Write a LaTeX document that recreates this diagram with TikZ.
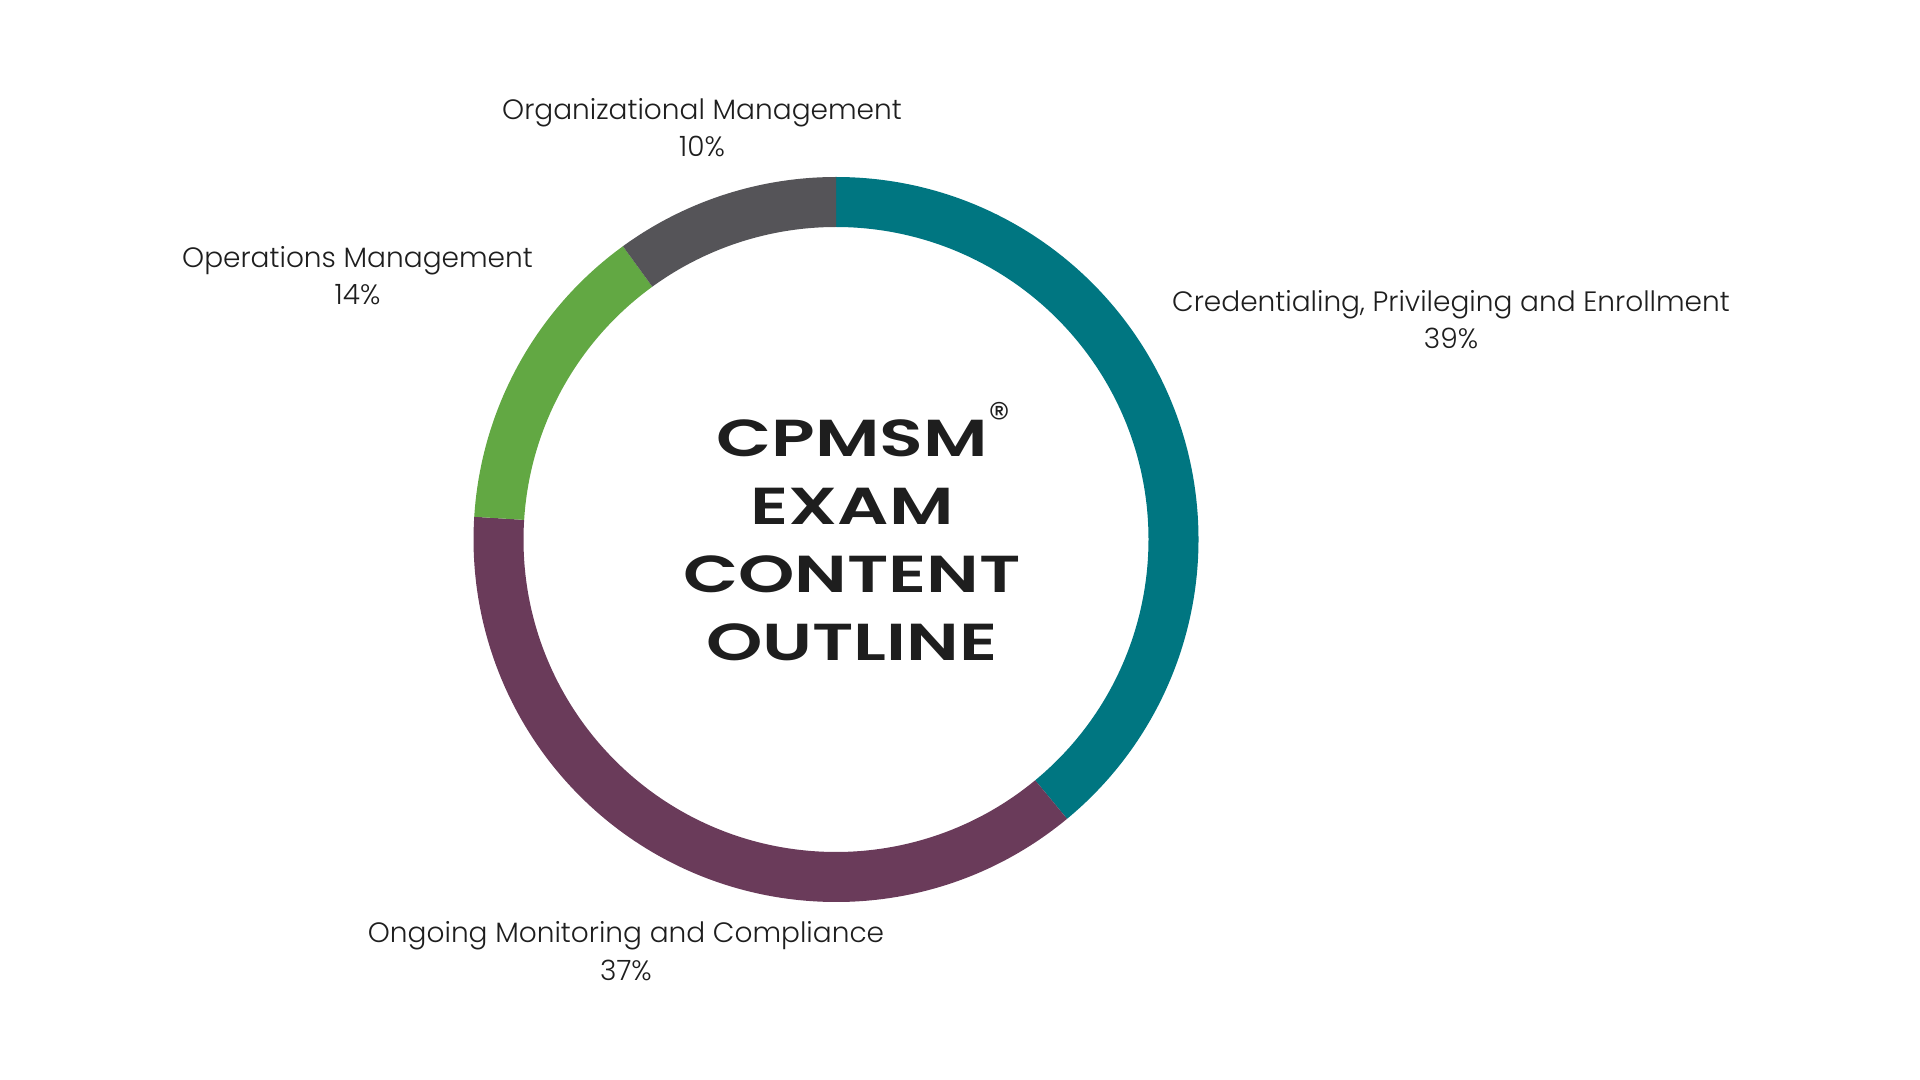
\documentclass[tikz,border=0pt]{standalone}
\usepackage{fontspec}
\setmainfont{Poppins}
\newfontfamily\labelfont{Poppins Light}
\newfontfamily\titlefont{Poppins SemiBold}[FakeStretch=1.38]

\definecolor{ringTeal}{HTML}{007681}
\definecolor{ringPlum}{HTML}{6A3B5A}
\definecolor{ringGreen}{HTML}{62A843}
\definecolor{ringGrey}{HTML}{555458}
\definecolor{inkText}{HTML}{1E1E1E}

\newcommand{\regmark}{\rlap{\kern0.5pt\raisebox{11.5pt}{\labelfont\fontsize{22}{22}\selectfont\textregistered}}}

\tikzset{every picture/.style={line width=0.75pt}}
\tikzset{
  share label/.style={anchor=base,inner sep=0.75pt,align=center,text=inkText,font=\labelfont\fontsize{14}{18.8}\selectfont},
  title label/.style={anchor=base,inner sep=0.75pt,align=center,text=inkText,font=\titlefont\fontsize{26}{34}\selectfont}
}

\begin{document}
\begin{tikzpicture}[x=0.5pt,y=0.5pt,yscale=-1,xscale=1]
        %set diagram size to 1920 x 1080
        \useasboundingbox (0,0) rectangle (1920,1080);

        %Ring [id:ring] 
        \begin{scope}[shift={(836,539.5)}]
          \foreach \from/\to/\col in {270/410.4/ringTeal,410.4/543.6/ringPlum,543.6/594/ringGreen,594/630/ringGrey}{
            \fill[\col] (\from:362.5) arc[start angle=\from,end angle=\to,radius=362.5]
              -- (\to:312.5) arc[start angle=\to,end angle=\from,radius=312.5] -- cycle ;
          }
        \end{scope}

        % Text Node
        \node [title label] (title) at (852,660) {CPMSM\regmark\\EXAM\\CONTENT\\OUTLINE};
        % Text Node
        \node [share label] (orgmgmt) at (702,157) {Organizational Management\\10\%};
        % Text Node
        \node [share label] (credential) at (1451,349) {Credentialing, Privileging and Enrollment\\39\%};
        % Text Node
        \node [share label] (opsmgmt) at (357.5,305) {Operations Management\\14\%};
        % Text Node
        \node [share label] (monitoring) at (626,980) {Ongoing Monitoring and Compliance\\37\%};

\end{tikzpicture}
\end{document}
